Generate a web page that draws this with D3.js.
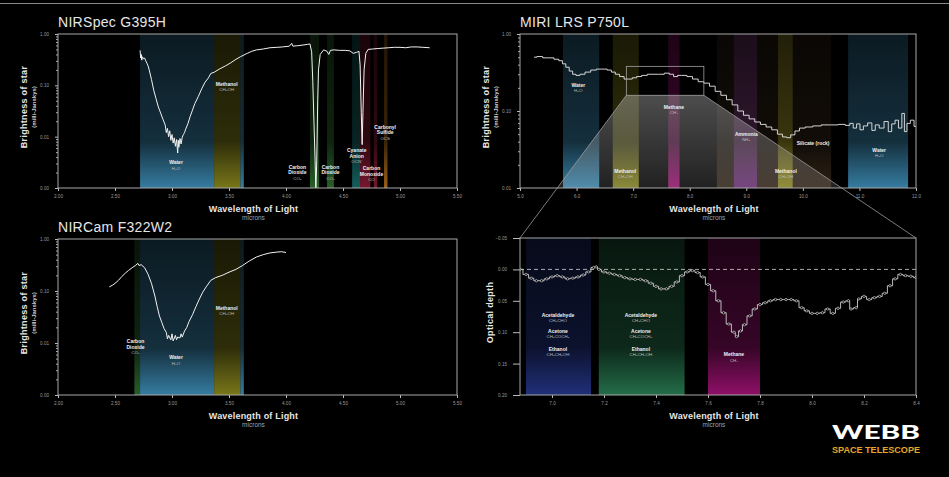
<!DOCTYPE html>
<html>
<head>
<meta charset="utf-8">
<script src="https://cdn.jsdelivr.net/npm/d3@7"></script>
<style>
  html, body { margin: 0; background: #000; }
  svg { display: block; font-family: "Liberation Sans", Arial, sans-serif; }
</style>
</head>
<body>
<svg id="chart" width="949" height="477"></svg>
<script>
// ---- data ----
const micronTicks = [2.0, 2.5, 3.0, 3.5, 4.0, 4.5, 5.0, 5.5];
const miriTicks = [5, 6, 7, 8, 9, 10, 11, 12];
const depthTicksX = [7.0, 7.2, 7.4, 7.6, 7.8, 8.0, 8.2, 8.4];
const depthTicksY = [-0.05, 0, 0.05, 0.1, 0.15, 0.2];

// [wavelength (microns), brightness (mJy)]
const nirspecFlux = [
  [2.72,0.48],[2.725,0.34],[2.73,0.40],[2.735,0.31],[2.74,0.36],[2.75,0.33],[2.76,0.34],[2.77,0.30],
  [2.78,0.27],[2.79,0.24],[2.80,0.20],[2.82,0.13],[2.84,0.08],[2.86,0.055],[2.88,0.038],[2.90,0.029],
  [2.92,0.022],[2.94,0.017],[2.95,0.012],[2.96,0.0145],[2.97,0.010],[2.98,0.013],[2.99,0.0085],[3.00,0.011],
  [3.01,0.0075],[3.02,0.0095],[3.03,0.0065],[3.04,0.0088],[3.05,0.0048],[3.055,0.0085],[3.06,0.0062],
  [3.07,0.0092],[3.08,0.0072],[3.09,0.0098],[3.10,0.011],[3.11,0.012],[3.12,0.014],[3.14,0.018],
  [3.16,0.025],[3.18,0.033],[3.20,0.044],[3.23,0.060],[3.26,0.085],[3.29,0.115],[3.32,0.14],[3.34,0.17],
  [3.37,0.18],[3.42,0.21],[3.47,0.24],[3.51,0.27],[3.56,0.32],[3.60,0.36],[3.66,0.42],[3.70,0.46],
  [3.74,0.49],[3.80,0.51],[3.86,0.54],[3.92,0.55],[3.97,0.56],[4.03,0.58],[4.05,0.66],[4.06,0.58],
  [4.10,0.59],[4.15,0.61],[4.19,0.63],[4.21,0.64],[4.225,0.45],[4.235,0.12],[4.245,0.02],[4.255,0.0035],
  [4.262,0.0009],[4.27,0.0035],[4.278,0.05],[4.285,0.2],[4.30,0.40],[4.33,0.49],[4.36,0.46],[4.375,0.40],
  [4.39,0.48],[4.42,0.49],[4.47,0.48],[4.52,0.48],[4.56,0.47],[4.59,0.42],[4.62,0.44],[4.64,0.46],
  [4.65,0.25],[4.66,0.03],[4.668,0.007],[4.675,0.03],[4.685,0.2],[4.70,0.42],[4.72,0.50],[4.76,0.51],
  [4.80,0.52],[4.85,0.53],[4.90,0.54],[4.95,0.55],[5.00,0.55],[5.05,0.54],[5.10,0.56],[5.15,0.56],
  [5.20,0.55],[5.26,0.54]
];

const nircamFlux = [
  [2.45,0.12],[2.48,0.13],[2.50,0.14],[2.53,0.16],[2.56,0.19],[2.59,0.22],[2.62,0.25],[2.65,0.28],
  [2.68,0.31],[2.70,0.34],[2.71,0.31],[2.73,0.32],[2.76,0.28],[2.79,0.21],[2.82,0.14],[2.85,0.08],
  [2.87,0.05],[2.89,0.033],[2.91,0.025],[2.93,0.019],[2.95,0.016],[2.96,0.012],[2.97,0.014],[2.99,0.0115],
  [3.00,0.015],[3.01,0.011],[3.03,0.014],[3.04,0.0115],[3.05,0.013],[3.07,0.0125],[3.08,0.015],
  [3.09,0.013],[3.11,0.017],[3.13,0.02],[3.15,0.026],[3.18,0.035],[3.21,0.05],[3.24,0.07],[3.27,0.095],
  [3.30,0.12],[3.34,0.16],[3.38,0.18],[3.44,0.20],[3.50,0.23],[3.56,0.26],[3.62,0.31],[3.68,0.38],
  [3.74,0.45],[3.80,0.50],[3.86,0.54],[3.92,0.56],[3.96,0.57],[4.00,0.55]
];

const miriFlux = [
  [5.25,0.50],[5.35,0.51],[5.45,0.49],[5.55,0.49],[5.65,0.47],[5.72,0.45],[5.78,0.41],[5.84,0.37],
  [5.90,0.33],[5.96,0.30],[6.02,0.29],[6.10,0.30],[6.20,0.32],[6.30,0.34],[6.40,0.35],[6.50,0.35],
  [6.58,0.34],[6.65,0.32],[6.72,0.30],[6.80,0.28],[6.88,0.26],[6.95,0.26],[7.02,0.27],[7.10,0.28],
  [7.20,0.29],[7.30,0.30],[7.40,0.30],[7.50,0.30],[7.60,0.31],[7.68,0.30],[7.75,0.28],[7.82,0.29],
  [7.90,0.29],[8.00,0.28],[8.10,0.26],[8.20,0.24],[8.30,0.23],[8.40,0.21],[8.50,0.18],[8.60,0.16],
  [8.70,0.14],[8.80,0.12],[8.90,0.10],[9.00,0.088],[9.10,0.079],[9.20,0.072],[9.30,0.067],[9.40,0.062],
  [9.50,0.057],[9.60,0.050],[9.68,0.046],[9.75,0.045],[9.82,0.049],[9.90,0.055],[9.98,0.060],
  [10.10,0.062],[10.25,0.064],[10.40,0.066],[10.55,0.066],[10.70,0.067],[10.80,0.065],[10.86,0.069],
  [10.92,0.060],[10.98,0.068],[11.04,0.057],[11.10,0.064],[11.19,0.070],[11.25,0.056],[11.31,0.066],
  [11.39,0.060],[11.48,0.073],[11.54,0.054],[11.60,0.068],[11.66,0.076],[11.72,0.060],[11.78,0.093],
  [11.81,0.054],[11.87,0.069],[11.93,0.076],[12.0,0.063]
];

// [wavelength (microns), optical depth]
const depthSeries = [
  [6.877,0.000],[6.90,0.008],[6.92,0.014],[6.94,0.018],[6.96,0.018],[6.98,0.015],[7.00,0.012],
  [7.02,0.010],[7.04,0.012],[7.06,0.015],[7.08,0.014],[7.10,0.012],[7.12,0.009],[7.14,0.004],
  [7.16,-0.003],[7.17,-0.004],[7.18,0.000],[7.20,0.004],[7.22,0.006],[7.24,0.008],[7.26,0.010],
  [7.28,0.013],[7.30,0.015],[7.32,0.016],[7.34,0.016],[7.36,0.018],[7.38,0.022],[7.40,0.027],
  [7.42,0.031],[7.44,0.031],[7.46,0.027],[7.48,0.020],[7.50,0.010],[7.52,0.004],[7.54,0.002],
  [7.56,0.005],[7.58,0.012],[7.60,0.024],[7.62,0.034],[7.64,0.050],[7.66,0.069],[7.68,0.087],
  [7.70,0.100],[7.71,0.107],[7.725,0.098],[7.74,0.088],[7.76,0.074],[7.78,0.063],[7.80,0.056],
  [7.82,0.053],[7.84,0.050],[7.86,0.048],[7.88,0.048],[7.90,0.048],[7.92,0.048],[7.94,0.050],
  [7.96,0.061],[7.98,0.066],[8.00,0.070],[8.02,0.070],[8.04,0.069],[8.06,0.063],[8.08,0.070],
  [8.10,0.062],[8.12,0.052],[8.14,0.050],[8.15,0.063],[8.17,0.061],[8.18,0.047],[8.20,0.043],
  [8.22,0.048],[8.24,0.045],[8.26,0.043],[8.28,0.038],[8.30,0.026],[8.32,0.015],[8.34,0.008],
  [8.36,0.010],[8.38,0.011],[8.40,0.013]
];

// absorption bands: [from, to, molecule]
const nirspecBands = [
  [2.72, 3.37, "water"], [3.37, 3.60, "methanol"], [3.60, 3.63, "water"],
  [4.21, 4.29, "co2"], [4.36, 4.42, "co2"], [4.58, 4.65, "ocn"],
  [4.65, 4.74, "co"], [4.77, 4.80, "co"], [4.86, 4.89, "ocs"]
];
const nircamBands = [
  [2.67, 2.72, "co2"], [2.72, 3.37, "water"], [3.37, 3.60, "methanol"], [3.60, 3.63, "water"]
];
const miriBands = [
  [5.76, 6.40, "water"], [6.64, 7.10, "methanol"], [7.62, 7.82, "methane"],
  [8.48, 10.50, "silicate"], [8.78, 9.19, "ammonia"], [9.56, 9.82, "methanol"],
  [10.80, 11.86, "water"]
];
const depthBands = [
  [6.90, 7.15, "organicsBlue"], [7.18, 7.51, "organicsGreen"], [7.60, 7.80, "methane"]
];

// labels: [wavelength, y value, lines]
const nirspecLabels = [
  [3.035, 0.0029, ["Water", "H₂O"]],
  [3.48, 0.097, ["Methanol", "CH₃OH"]],
  [4.10, 0.00234, ["Carbon", "Dioxide", "CO₂"]],
  [4.39, 0.00234, ["Carbon", "Dioxide", "CO₂"]],
  [4.62, 0.005, ["Cyanate", "Anion", "OCN⁻"]],
  [4.75, 0.0022, ["Carbon", "Monoxide", "CO"]],
  [4.87, 0.0141, ["Carbonyl", "Sulfide", "OCS"]]
];
const nircamLabels = [
  [2.68, 0.0098, ["Carbon", "Dioxide", "CO₂"]],
  [3.035, 0.0049, ["Water", "H₂O"]],
  [3.48, 0.043, ["Methanol", "CH₃OH"]]
];
const miriLabels = [
  [6.03, 0.207, ["Water", "H₂O"]],
  [6.86, 0.0157, ["Methanol", "CH₃OH"]],
  [7.72, 0.106, ["Methane", "CH₄"]],
  [9.00, 0.0473, ["Ammonia", "NH₃"]],
  [10.18, 0.0363, ["Silicate (rock)"]],
  [9.70, 0.0157, ["Methanol", "CH₃OH"]],
  [11.35, 0.0294, ["Water", "H₂O"]]
];
const organicLines = ["Acetaldehyde", "CH₃CHO", "Acetone", "CH₃COCH₃", "Ethanol", "CH₃CH₂OH"];
const depthLabels = [
  [7.023, 0.075, organicLines],
  [7.342, 0.075, organicLines],
  [7.70, 0.1385, ["Methane", "CH₄"]]
];

// zoomed region of the MIRI spectrum shown in the optical-depth panel
const zoomWave = [6.88, 8.25];
const zoomFlux = [0.16, 0.38];

// ---- styling ----
const bandColors = {
  water: "#3f92bd", methanol: "#8e8c1e", co2: "#2f7030", ocn: "#18706e",
  co: "#8e1a36", ocs: "#b8701c", methane: "#a8127a", ammonia: "#6a2a7c",
  silicate: "#5a4028", organicsBlue: "#26388e", organicsGreen: "#2a8055"
};

const svg = d3.select("#chart");
svg.append("rect").attr("width", 949).attr("height", 477).attr("fill", "#000");

const defs = svg.append("defs");
Object.entries(bandColors).forEach(([key, color]) => {
  const g = defs.append("linearGradient").attr("id", `band-${key}`)
    .attr("x1", 0).attr("y1", 0).attr("x2", 0).attr("y2", 1);
  const fade = key === "silicate" ? 0.6 : 1;
  g.append("stop").attr("offset", "0%").attr("stop-color", color).attr("stop-opacity", 0.18 * fade);
  g.append("stop").attr("offset", "70%").attr("stop-color", color).attr("stop-opacity", 0.32 * fade);
  g.append("stop").attr("offset", "100%").attr("stop-color", color).attr("stop-opacity", 0.85 * fade);
});
const zoomGrad = defs.append("linearGradient").attr("id", "zoom-fill")
  .attr("x1", 0).attr("y1", 0).attr("x2", 0).attr("y2", 1);
zoomGrad.append("stop").attr("offset", "0%").attr("stop-color", "#fff").attr("stop-opacity", 0.3);
zoomGrad.append("stop").attr("offset", "100%").attr("stop-color", "#fff").attr("stop-opacity", 0.04);

// thin rule across the top
svg.append("line").attr("x1", 0).attr("x2", 949).attr("y1", 3.5).attr("y2", 3.5)
  .attr("stroke", "#8a8a8a").attr("stroke-width", 1);

function drawPanel(cfg) {
  const { id, left, right, top, bottom } = cfg;
  const x = d3.scaleLinear().domain(cfg.xDomain).range([left, right]);
  const y = cfg.log
    ? d3.scaleLog().domain(cfg.yDomain).range([bottom, top])
    : d3.scaleLinear().domain(cfg.yDomain).range([top, bottom]);

  defs.append("clipPath").attr("id", `clip-${id}`)
    .append("rect").attr("x", left).attr("y", top)
    .attr("width", right - left).attr("height", bottom - top);

  const g = svg.append("g");
  const plot = g.append("g").attr("clip-path", `url(#clip-${id})`);

  plot.selectAll("rect.band").data(cfg.bands).enter().append("rect")
    .attr("class", "band")
    .attr("x", (d) => x(d[0]))
    .attr("width", (d) => x(d[1]) - x(d[0]))
    .attr("y", top).attr("height", bottom - top)
    .attr("fill", (d) => `url(#band-${d[2]})`);

  if (cfg.title) {
    g.append("text").attr("x", left).attr("y", top - 7)
      .attr("fill", "#e6e6e6").attr("font-size", 14).attr("letter-spacing", 0.3)
      .text(cfg.title);
  }

  // axes
  const xAxis = g.append("g").attr("transform", `translate(0,${bottom})`)
    .call(d3.axisBottom(x).tickValues(cfg.xTicks).tickFormat(d3.format(cfg.xFormat)).tickSize(3));
  const yAxis = g.append("g").attr("transform", `translate(${left},0)`)
    .call(d3.axisLeft(y).tickValues(cfg.yTicks).tickFormat(d3.format(cfg.yFormat)).tickSize(cfg.yTickSize));
  [xAxis, yAxis].forEach((ax) => {
    ax.select(".domain").remove();
    ax.selectAll(".tick line").attr("stroke", "#bbb");
    ax.selectAll(".tick text").attr("fill", "#9a9a9a").attr("font-size", 4.6)
      .attr("font-family", "'Liberation Sans', Arial, sans-serif");
  });
  xAxis.selectAll(".tick text").attr("dy", "0.9em").attr("y", 6);
  yAxis.selectAll(".tick text").attr("x", -(cfg.yTickSize + 6));

  if (cfg.log) {
    const minor = [];
    const [lo, hi] = cfg.yDomain;
    for (let dec = lo; dec < hi * 0.999; dec *= 10) {
      for (let m = 2; m <= 9; m++) minor.push(dec * m);
    }
    const minorAxis = g.append("g").attr("transform", `translate(${left},0)`)
      .call(d3.axisLeft(y).tickValues(minor).tickFormat("").tickSize(2));
    minorAxis.select(".domain").remove();
    minorAxis.selectAll(".tick line").attr("stroke", "#aaa");
  }

  g.append("rect").attr("x", left).attr("y", top)
    .attr("width", right - left).attr("height", bottom - top)
    .attr("fill", "none").attr("stroke", "#a8a8a8").attr("stroke-width", 1);

  // axis titles
  const midX = (left + right) / 2 - 4;
  g.append("text").attr("x", midX).attr("y", bottom + 24).attr("text-anchor", "middle")
    .attr("fill", "#e6e6e6").attr("font-size", 9).attr("font-weight", "bold")
    .attr("letter-spacing", 0.2).text("Wavelength of Light");
  g.append("text").attr("x", midX).attr("y", bottom + 32).attr("text-anchor", "middle")
    .attr("fill", "#a0a0a0").attr("font-size", 6.5).text("microns");

  const midY = (top + bottom) / 2 - 4;
  if (cfg.depth) {
    g.append("text").attr("transform", `translate(${left - 27},${midY}) rotate(-90)`)
      .attr("text-anchor", "middle").attr("fill", "#e6e6e6").attr("font-size", 9)
      .attr("font-weight", "bold").attr("letter-spacing", 0.3).text("Optical depth");
  } else {
    g.append("text").attr("transform", `translate(${left - 31},${midY}) rotate(-90)`)
      .attr("text-anchor", "middle").attr("fill", "#e6e6e6").attr("font-size", 9)
      .attr("font-weight", "bold").attr("letter-spacing", 0.3).text("Brightness of star");
    g.append("text").attr("transform", `translate(${left - 22},${midY}) rotate(-90)`)
      .attr("text-anchor", "middle").attr("fill", "#cfcfcf").attr("font-size", 6)
      .attr("font-weight", "bold").text("(milli-Janskys)");
  }

  return { g, plot, x, y };
}

function drawLabels(panel, labels, offsets) {
  labels.forEach(([wx, wy, lines]) => {
    const t = panel.g.append("text").attr("text-anchor", "middle");
    lines.forEach((line, i) => {
      const isName = lines.length === 1 || (offsets ? i % 2 === 0 : i < lines.length - 1);
      t.append("tspan").attr("x", panel.x(wx))
        .attr("y", panel.y(wy) + (offsets ? offsets[i] : i * 5.4))
        .attr("fill", isName ? "#f0f0f0" : "#bdbdbd")
        .attr("font-size", isName ? 5 : 4.4)
        .attr("font-weight", isName ? "bold" : "normal")
        .text(line);
    });
  });
}

// ---- NIRSpec ----
const nirspec = drawPanel({
  id: "nirspec", title: "NIRSpec G395H", left: 58, right: 457, top: 34, bottom: 188,
  xDomain: [2, 5.5], yDomain: [0.001, 1], log: true, bands: nirspecBands,
  xTicks: micronTicks, xFormat: ".2f", yTicks: [0.001, 0.01, 0.1, 1], yFormat: ".2f", yTickSize: 3
});
nirspec.plot.append("path").datum(nirspecFlux)
  .attr("fill", "none").attr("stroke", "#f2f2f2").attr("stroke-width", 1)
  .attr("d", d3.line().x((d) => nirspec.x(d[0])).y((d) => nirspec.y(d[1])));
drawLabels(nirspec, nirspecLabels);

// ---- NIRCam ----
const nircam = drawPanel({
  id: "nircam", title: "NIRCam F322W2", left: 58, right: 457, top: 239, bottom: 395,
  xDomain: [2, 5.5], yDomain: [0.001, 1], log: true, bands: nircamBands,
  xTicks: micronTicks, xFormat: ".2f", yTicks: [0.001, 0.01, 0.1, 1], yFormat: ".2f", yTickSize: 3
});
nircam.plot.append("path").datum(nircamFlux)
  .attr("fill", "none").attr("stroke", "#f2f2f2").attr("stroke-width", 1)
  .attr("d", d3.line().x((d) => nircam.x(d[0])).y((d) => nircam.y(d[1])));
drawLabels(nircam, nircamLabels);

// ---- MIRI ----
const miri = drawPanel({
  id: "miri", title: "MIRI LRS P750L", left: 520, right: 916, top: 34, bottom: 188,
  xDomain: [5, 12], yDomain: [0.01, 1], log: true, bands: miriBands,
  xTicks: miriTicks, xFormat: ".1f", yTicks: [0.01, 0.1, 1], yFormat: ".2f", yTickSize: 3
});

// ---- optical depth ----
const depth = drawPanel({
  id: "depth", left: 520, right: 916, top: 238, bottom: 395,
  xDomain: [6.877, 8.4], yDomain: [-0.05, 0.2], log: false, depth: true, bands: depthBands,
  xTicks: depthTicksX, xFormat: ".1f", yTicks: depthTicksY, yFormat: ".2f", yTickSize: 7
});

// zoom connector from MIRI box to the optical-depth panel
const bx0 = miri.x(zoomWave[0]), bx1 = miri.x(zoomWave[1]);
const by0 = miri.y(zoomFlux[1]), by1 = miri.y(zoomFlux[0]);
miri.plot.append("polygon")
  .attr("points", [[bx0, by1], [bx1, by1], [916, 238], [520, 238]].map((p) => p.join(",")).join(" "))
  .attr("fill", "url(#zoom-fill)");
svg.append("rect").attr("x", bx0).attr("y", by0).attr("width", bx1 - bx0).attr("height", by1 - by0)
  .attr("fill", "none").attr("stroke", "#a0a0a0").attr("stroke-width", 0.8);
svg.append("line").attr("x1", bx0).attr("y1", by1).attr("x2", 520).attr("y2", 238)
  .attr("stroke", "#9a9a9a").attr("stroke-width", 0.8);
svg.append("line").attr("x1", bx1).attr("y1", by1).attr("x2", 916).attr("y2", 238)
  .attr("stroke", "#9a9a9a").attr("stroke-width", 0.8);

miri.plot.append("path").datum(miriFlux)
  .attr("fill", "none").attr("stroke", "#e8e8e8").attr("stroke-width", 0.9)
  .attr("d", d3.line().curve(d3.curveStep).x((d) => miri.x(d[0])).y((d) => miri.y(d[1])));
drawLabels(miri, miriLabels);

// zero line + stepped spectrum with markers
depth.plot.append("line").attr("x1", 520).attr("x2", 916)
  .attr("y1", depth.y(0)).attr("y2", depth.y(0))
  .attr("stroke", "#bdbdbd").attr("stroke-width", 0.9).attr("stroke-dasharray", "4,3");
depth.plot.append("path").datum(depthSeries)
  .attr("fill", "none").attr("stroke", "#cfcfcf").attr("stroke-width", 0.9)
  .attr("d", d3.line().curve(d3.curveStep).x((d) => depth.x(d[0])).y((d) => depth.y(d[1])));
depth.plot.selectAll("circle.pt").data(depthSeries).enter().append("circle")
  .attr("class", "pt").attr("cx", (d) => depth.x(d[0])).attr("cy", (d) => depth.y(d[1]))
  .attr("r", 1.2).attr("fill", "#000").attr("stroke", "#e6e6e6").attr("stroke-width", 0.6);
drawLabels(depth, depthLabels.slice(0, 2), [0, 5.5, 16, 21.5, 34, 39.5]);
drawLabels(depth, depthLabels.slice(2));

// ---- Webb logo ----
svg.append("text").attr("x", 832).attr("y", 438.5)
  .attr("fill", "#fff").attr("font-size", 19).attr("font-weight", 900)
  .attr("font-family", "Lato, 'Liberation Sans', sans-serif")
  .attr("textLength", 88).attr("lengthAdjust", "spacingAndGlyphs").text("WEBB");
svg.append("text").attr("x", 832).attr("y", 453)
  .attr("fill", "#e3a82b").attr("font-size", 8.4).attr("font-weight", "bold")
  .attr("textLength", 88).attr("lengthAdjust", "spacingAndGlyphs").text("SPACE TELESCOPE");
</script>
</body>
</html>
